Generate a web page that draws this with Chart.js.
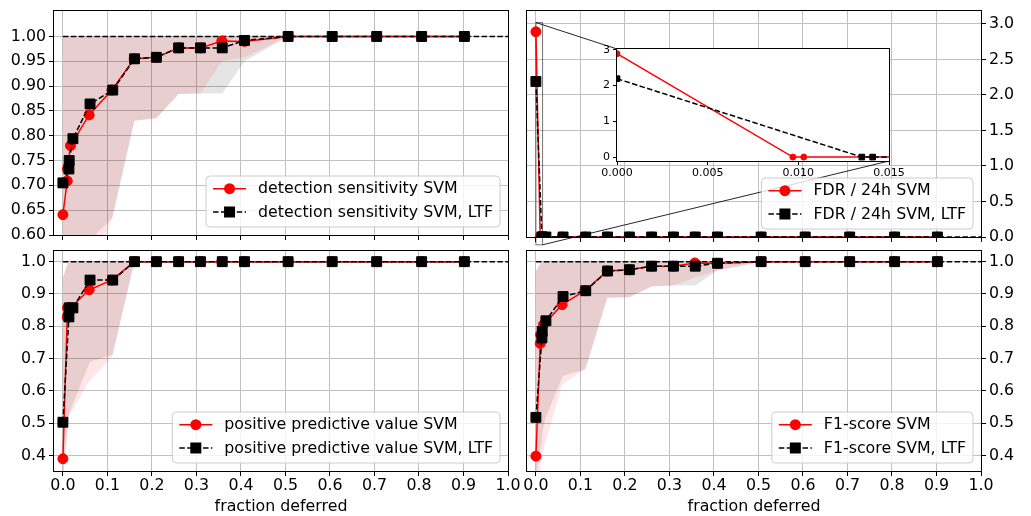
<!DOCTYPE html>
<html><head><meta charset="utf-8">
<script src="https://cdn.jsdelivr.net/npm/chart.js@4.4.1/dist/chart.umd.min.js"></script>
<style>
html,body{margin:0;padding:0;background:#fff;}
#wrap{position:relative;width:1031px;height:516px;overflow:hidden;background:#fff;}
canvas{position:absolute;}
</style></head><body>
<div id="wrap">
<canvas id="cBL" width="530" height="273" style="left:0px;top:243px;z-index:1"></canvas>
<canvas id="cBR" width="515" height="273" style="left:516px;top:243px;z-index:1"></canvas>
<canvas id="cTL" width="516" height="243" style="left:0px;top:0px;z-index:2"></canvas>
<canvas id="cTR" width="515" height="250" style="left:516px;top:0px;z-index:2"></canvas>
<canvas id="cIN" width="340" height="150" style="left:580px;top:40px;z-index:3"></canvas>
</div>
<script>
// ---------------- data ----------------
const xSVM = [0, 0.0097, 0.0103, 0.017, 0.059, 0.11, 0.16, 0.21, 0.26, 0.309, 0.357, 0.408, 0.506, 0.605, 0.705, 0.806, 0.902];
const xLTF = [0, 0.0135, 0.0141, 0.0225, 0.061, 0.112, 0.161, 0.21, 0.26, 0.309, 0.358, 0.408, 0.506, 0.605, 0.705, 0.806, 0.902];

const sensSVM = [0.641, 0.709, 0.733, 0.780, 0.842, 0.892, 0.955, 0.958, 0.977, 0.977, 0.991, 0.990, 1, 1, 1, 1, 1];
const sensLTF = [0.705, 0.733, 0.750, 0.794, 0.864, 0.892, 0.955, 0.958, 0.977, 0.977, 0.977, 0.992, 1, 1, 1, 1, 1];
const sensSVMLow  = [0.30, 0.36, 0.38, 0.42, 0.50, 0.635, 0.83, 0.835, 0.884, 0.885, 0.95, 0.958, 1, 1, 1, 1, 1];
const sensSVMHigh = [1, 1, 1, 1, 1, 1, 1, 1, 1, 1, 1, 1, 1, 1, 1, 1, 1];
const sensLTFLow  = [0.35, 0.42, 0.43, 0.47, 0.59, 0.635, 0.83, 0.835, 0.884, 0.885, 0.885, 0.95, 1, 1, 1, 1, 1];
const sensLTFHigh = [1, 1, 1, 1, 1, 1, 1, 1, 1, 1, 1, 1, 1, 1, 1, 1, 1];

const fdrSVM = [2.89, 0, 0, 0, 0, 0, 0, 0, 0, 0, 0, 0, 0, 0, 0, 0, 0];
const fdrLTF = [2.19, 0, 0, 0, 0, 0, 0, 0, 0, 0, 0, 0, 0, 0, 0, 0, 0];

const ppvSVM = [0.390, 0.829, 0.857, 0.857, 0.913, 0.943, 1, 1, 1, 1, 1, 1, 1, 1, 1, 1, 1];
const ppvLTF = [0.503, 0.829, 0.857, 0.857, 0.943, 0.943, 1, 1, 1, 1, 1, 1, 1, 1, 1, 1, 1];
const ppvSVMLow  = [0.30, 0.50, 0.51, 0.53, 0.63, 0.705, 1, 1, 1, 1, 1, 1, 1, 1, 1, 1, 1];
const ppvSVMHigh = [0.95, 1, 1, 1, 1, 1, 1, 1, 1, 1, 1, 1, 1, 1, 1, 1, 1];
const ppvLTFLow  = [0.33, 0.52, 0.53, 0.56, 0.69, 0.712, 1, 1, 1, 1, 1, 1, 1, 1, 1, 1, 1];
const ppvLTFHigh = [0.95, 1, 1, 1, 1, 1, 1, 1, 1, 1, 1, 1, 1, 1, 1, 1, 1];

const f1SVM = [0.398, 0.747, 0.774, 0.805, 0.867, 0.910, 0.971, 0.975, 0.986, 0.986, 0.996, 0.995, 1, 1, 1, 1, 1];
const f1LTF = [0.518, 0.764, 0.784, 0.817, 0.892, 0.910, 0.971, 0.975, 0.986, 0.986, 0.986, 0.995, 1, 1, 1, 1, 1];
const f1SVMLow  = [0.30, 0.35, 0.37, 0.42, 0.62, 0.667, 0.888, 0.89, 0.923, 0.926, 0.95, 0.973, 1, 1, 1, 1, 1];
const f1SVMHigh = [0.97, 1, 1, 1, 1, 1, 1, 1, 1, 1, 1, 1, 1, 1, 1, 1, 1];
const f1LTFLow  = [0.33, 0.45, 0.47, 0.52, 0.647, 0.667, 0.888, 0.89, 0.923, 0.926, 0.926, 0.973, 1, 1, 1, 1, 1];
const f1LTFHigh = [0.97, 1, 1, 1, 1, 1, 1, 1, 1, 1, 1, 1, 1, 1, 1, 1, 1];

const refX = [0, 1];
const refOne = [1, 1];
const refZero = [0, 0];

const xTicks = [0, 0.1, 0.2, 0.3, 0.4, 0.5, 0.6, 0.7, 0.8, 0.9, 1.0];
const sensTicks = [0.60, 0.65, 0.70, 0.75, 0.80, 0.85, 0.90, 0.95, 1.00];
const fdrTicks = [0, 0.5, 1.0, 1.5, 2.0, 2.5, 3.0];
const ratioTicks = [0.4, 0.5, 0.6, 0.7, 0.8, 0.9, 1.0];
const insetXTicks = [0, 0.005, 0.010, 0.015];
const insetYTicks = [0, 1, 2, 3];

const labelsSens = ['detection sensitivity SVM', 'detection sensitivity SVM, LTF'];
const labelsFDR = ['FDR / 24h SVM', 'FDR / 24h SVM, LTF'];
const labelsPPV = ['positive predictive value SVM', 'positive predictive value SVM, LTF'];
const labelsF1 = ['F1-score SVM', 'F1-score SVM, LTF'];
const xTitle = 'fraction deferred';

// ---------------- style ----------------
const FONT = '"DejaVu Sans", sans-serif';
const FS = 15.8;
const RED = '#ff0000', BLACK = '#000000', GRID = '#c0c0c0';
const DASH = [5.5, 2.4];
const BAND_RED = 'rgba(255,0,0,0.1)', BAND_GRAY = 'rgba(0,0,0,0.1)';
const X_MIN = -0.02, X_MAX = 1.0;
const INSET_X = [0, 0.015], INSET_Y = [-0.11, 3.02];
const TR_POS = {left: 516, top: 0}, IN_POS = {left: 580, top: 40};

Chart.defaults.font.family = FONT;
Chart.defaults.font.size = FS;
Chart.defaults.color = '#000';
Chart.defaults.animation = false;

function pts(xs, ys) { return xs.map((x, i) => ({x: x, y: ys[i]})); }

function svmSet(xs, ys, r) {
  return {data: pts(xs, ys), borderColor: RED, backgroundColor: RED, borderWidth: 1.5,
    pointStyle: 'circle', pointRadius: r, pointBorderWidth: 1, pointBackgroundColor: RED,
    pointBorderColor: RED, fill: false, tension: 0, order: 1};
}
function ltfSet(xs, ys, r) {
  return {data: pts(xs, ys), borderColor: BLACK, backgroundColor: BLACK, borderWidth: 1.5,
    borderDash: DASH, pointStyle: 'rect', pointRadius: r, pointBorderWidth: 1,
    pointBackgroundColor: BLACK, pointBorderColor: BLACK, fill: false, tension: 0, order: 0};
}
function refSet(ys) {
  return {data: pts(refX, ys), borderColor: BLACK, borderWidth: 1.5, borderDash: DASH,
    pointRadius: 0, fill: false, order: 2};
}
function bandSets(xs, lo, hi, color, ord) {
  return [
    {data: pts(xs, hi), borderWidth: 0, borderColor: 'rgba(0,0,0,0)', pointRadius: 0,
      fill: '+1', backgroundColor: color, order: ord},
    {data: pts(xs, lo), borderWidth: 0, borderColor: 'rgba(0,0,0,0)', pointRadius: 0,
      fill: false, order: ord}
  ];
}

function setTicks(list) { return s => { s.ticks = list.map(v => ({value: v})); }; }

function xScale(showLabels, h) {
  return {
    type: 'linear', min: X_MIN, max: X_MAX,
    afterBuildTicks: setTicks(xTicks),
    afterFit: s => { s.height = h; s.paddingLeft = 0; s.paddingRight = 0; s.paddingTop = 0; s.paddingBottom = 0; },
    grid: {color: GRID, lineWidth: 1, drawTicks: true, tickLength: 5, tickColor: '#000', tickWidth: 1},
    border: {display: false},
    ticks: {display: showLabels, padding: 0, maxRotation: 0, minRotation: 0, autoSkip: false,
      callback: v => v.toFixed(1)},
    title: {display: showLabels, text: xTitle, padding: {top: 0, bottom: 0}}
  };
}
function yScale(pos, min, max, list, dec, w) {
  return {
    type: 'linear', position: pos, min: min, max: max,
    afterBuildTicks: setTicks(list),
    afterFit: s => { s.width = w; s.paddingLeft = 0; s.paddingRight = 0; s.paddingTop = 0; s.paddingBottom = 0; },
    grid: {color: GRID, lineWidth: 1, drawTicks: true, tickLength: 5, tickColor: '#000', tickWidth: 1},
    border: {display: false},
    ticks: {padding: 3, autoSkip: false, callback: v => v.toFixed(dec)}
  };
}

function roundRect(ctx, x, y, w, h, r) {
  ctx.beginPath();
  ctx.moveTo(x + r, y);
  ctx.lineTo(x + w - r, y); ctx.arcTo(x + w, y, x + w, y + r, r);
  ctx.lineTo(x + w, y + h - r); ctx.arcTo(x + w, y + h, x + w - r, y + h, r);
  ctx.lineTo(x + r, y + h); ctx.arcTo(x, y + h, x, y + h - r, r);
  ctx.lineTo(x, y + r); ctx.arcTo(x, y, x + r, y, r);
  ctx.closePath();
}

const framePlugin = {
  id: 'frame',
  afterDraw(chart) {
    const ctx = chart.ctx, a = chart.chartArea;
    ctx.save();
    ctx.strokeStyle = '#000'; ctx.lineWidth = 1;
    ctx.strokeRect(Math.round(a.left) - 0.5, Math.round(a.top) - 0.5, Math.round(a.right - a.left) + 1, Math.round(a.bottom - a.top) + 1);
    ctx.restore();
  }
};

function legendPlugin(labels) {
  return {
    id: 'mplLegend',
    afterDraw(chart) {
      const ctx = chart.ctx, a = chart.chartArea;
      ctx.save();
      ctx.font = FS + 'px ' + FONT;
      const tw = Math.max.apply(null, labels.map(l => ctx.measureText(l).width));
      const w = 52 + tw + 7, h = 51;
      const x = a.right - 8 - w, y = a.bottom - 8 - h;
      roundRect(ctx, x, y, w, h, 4);
      ctx.fillStyle = 'rgba(255,255,255,0.8)'; ctx.fill();
      ctx.strokeStyle = '#cccccc'; ctx.lineWidth = 1; ctx.stroke();
      labels.forEach((lab, i) => {
        const cy = y + 12.7 + i * 23.3;
        ctx.beginPath(); ctx.moveTo(x + 7, cy); ctx.lineTo(x + 40, cy);
        ctx.lineWidth = 1.5;
        if (i === 0) { ctx.setLineDash([]); ctx.strokeStyle = RED; }
        else { ctx.setLineDash(DASH); ctx.strokeStyle = BLACK; }
        ctx.stroke(); ctx.setLineDash([]);
        const mx = x + 23.5;
        if (i === 0) {
          ctx.beginPath(); ctx.arc(mx, cy, 5.5, 0, Math.PI * 2); ctx.fillStyle = RED; ctx.fill();
        } else {
          ctx.fillStyle = BLACK; ctx.fillRect(mx - 5.5, cy - 5.5, 11, 11);
        }
        ctx.fillStyle = '#000'; ctx.textBaseline = 'middle'; ctx.textAlign = 'left';
        ctx.fillText(lab, x + 52, cy + 0.5);
      });
      ctx.restore();
    }
  };
}

function makeChart(id, datasets, scales, padding, labels, extra) {
  const plugins = [framePlugin, legendPlugin(labels)];
  if (extra) plugins.unshift(extra);
  return new Chart(document.getElementById(id), {
    type: 'line',
    data: {datasets: datasets},
    options: {
      responsive: false, animation: false, devicePixelRatio: 1,
      layout: {padding: padding},
      plugins: {legend: {display: false}, tooltip: {enabled: false}},
      scales: scales
    },
    plugins: plugins
  });
}

// ---------------- bottom-left: PPV ----------------
makeChart('cBL', [
  ltfSet(xLTF, ppvLTF, 7), svmSet(xSVM, ppvSVM, 5), refSet(refOne),
  ...bandSets(xSVM, ppvSVMLow, ppvSVMHigh, BAND_RED, 3),
  ...bandSets(xLTF, ppvLTFLow, ppvLTFHigh, BAND_GRAY, 4)
], {x: xScale(true, 45), y: yScale('left', 0.352, 1.033, ratioTicks, 1, 54)},
  {left: 0, right: 22, top: 2, bottom: 0}, labelsPPV);

// ---------------- bottom-right: F1 ----------------
makeChart('cBR', [
  ltfSet(xLTF, f1LTF, 7), svmSet(xSVM, f1SVM, 5), refSet(refOne),
  ...bandSets(xSVM, f1SVMLow, f1SVMHigh, BAND_RED, 3),
  ...bandSets(xLTF, f1LTFLow, f1LTFHigh, BAND_GRAY, 4)
], {x: xScale(true, 45), y: yScale('right', 0.352, 1.033, ratioTicks, 1, 50)},
  {left: 11, right: 0, top: 2, bottom: 0}, labelsF1);

// ---------------- top-left: sensitivity ----------------
makeChart('cTL', [
  ltfSet(xLTF, sensLTF, 7), svmSet(xSVM, sensSVM, 5), refSet(refOne),
  ...bandSets(xSVM, sensSVMLow, sensSVMHigh, BAND_RED, 3),
  ...bandSets(xLTF, sensLTFLow, sensLTFHigh, BAND_GRAY, 4)
], {x: xScale(false, 6), y: yScale('left', 0.6, 1.0513, sensTicks, 2, 54)},
  {left: 0, right: 8, top: 11, bottom: 0}, labelsSens);

// ---------------- inset ----------------
const insetChart = new Chart(document.getElementById('cIN'), {
  type: 'line',
  data: {datasets: [ltfSet(xLTF, fdrLTF, 4), svmSet(xSVM, fdrSVM, 3)]},
  options: {
    responsive: false, animation: false, devicePixelRatio: 1,
    layout: {padding: {left: 0, right: 31, top: 9, bottom: 0}},
    plugins: {legend: {display: false}, tooltip: {enabled: false}},
    scales: {
      x: {type: 'linear', min: INSET_X[0], max: INSET_X[1], afterBuildTicks: setTicks(insetXTicks),
        afterFit: s => { s.height = 29; s.paddingLeft = 0; s.paddingRight = 0; s.paddingTop = 0; s.paddingBottom = 0; },
        grid: {display: true, drawOnChartArea: false, drawTicks: true, tickLength: 4, tickColor: '#000'},
        border: {display: false},
        ticks: {padding: 2, font: {size: 11}, autoSkip: false, maxRotation: 0, callback: v => v.toFixed(3)}},
      y: {type: 'linear', min: INSET_Y[0], max: INSET_Y[1], afterBuildTicks: setTicks(insetYTicks),
        afterFit: s => { s.width = 37; s.paddingLeft = 0; s.paddingRight = 0; s.paddingTop = 0; s.paddingBottom = 0; },
        grid: {display: true, drawOnChartArea: false, drawTicks: true, tickLength: 4, tickColor: '#000'},
        border: {display: false},
        ticks: {padding: 3, font: {size: 11}, autoSkip: false, callback: v => v.toFixed(0)}}
    }
  },
  plugins: [{id: 'bg', beforeDraw(chart) {
    const a = chart.chartArea, ctx = chart.ctx;
    ctx.save(); ctx.fillStyle = '#fff'; ctx.fillRect(a.left, a.top, a.right - a.left, a.bottom - a.top); ctx.restore();
  }}, framePlugin]
});

// ---------------- top-right: FDR ----------------
const zoomIndicator = {
  id: 'zoomInd',
  beforeDatasetsDraw(chart) {
    const ctx = chart.ctx, xs = chart.scales.x, ys = chart.scales.y;
    const x0 = xs.getPixelForValue(INSET_X[0]), x1 = xs.getPixelForValue(INSET_X[1]);
    const y0 = ys.getPixelForValue(INSET_Y[1]), y1 = ys.getPixelForValue(INSET_Y[0]);
    const ia = insetChart.chartArea;
    const dx = IN_POS.left - TR_POS.left, dy = IN_POS.top - TR_POS.top;
    ctx.save();
    ctx.strokeStyle = 'rgba(0,0,0,0.55)'; ctx.lineWidth = 1;
    ctx.strokeRect(x0, y0, x1 - x0, y1 - y0);
    ctx.strokeStyle = 'rgba(0,0,0,0.85)';
    ctx.beginPath(); ctx.moveTo(x0, y0); ctx.lineTo(ia.left + dx, ia.top + dy); ctx.stroke();
    ctx.beginPath(); ctx.moveTo(x1, y1); ctx.lineTo(ia.right + dx, ia.bottom + dy); ctx.stroke();
    ctx.restore();
  }
};
makeChart('cTR', [
  ltfSet(xLTF, fdrLTF, 7), svmSet(xSVM, fdrSVM, 5), refSet(refZero)
], {x: xScale(false, 13), y: yScale('right', 0, 3.183, fdrTicks, 1, 50)},
  {left: 11, right: 0, top: 11, bottom: 0}, labelsFDR, zoomIndicator);
</script>
</body></html>
